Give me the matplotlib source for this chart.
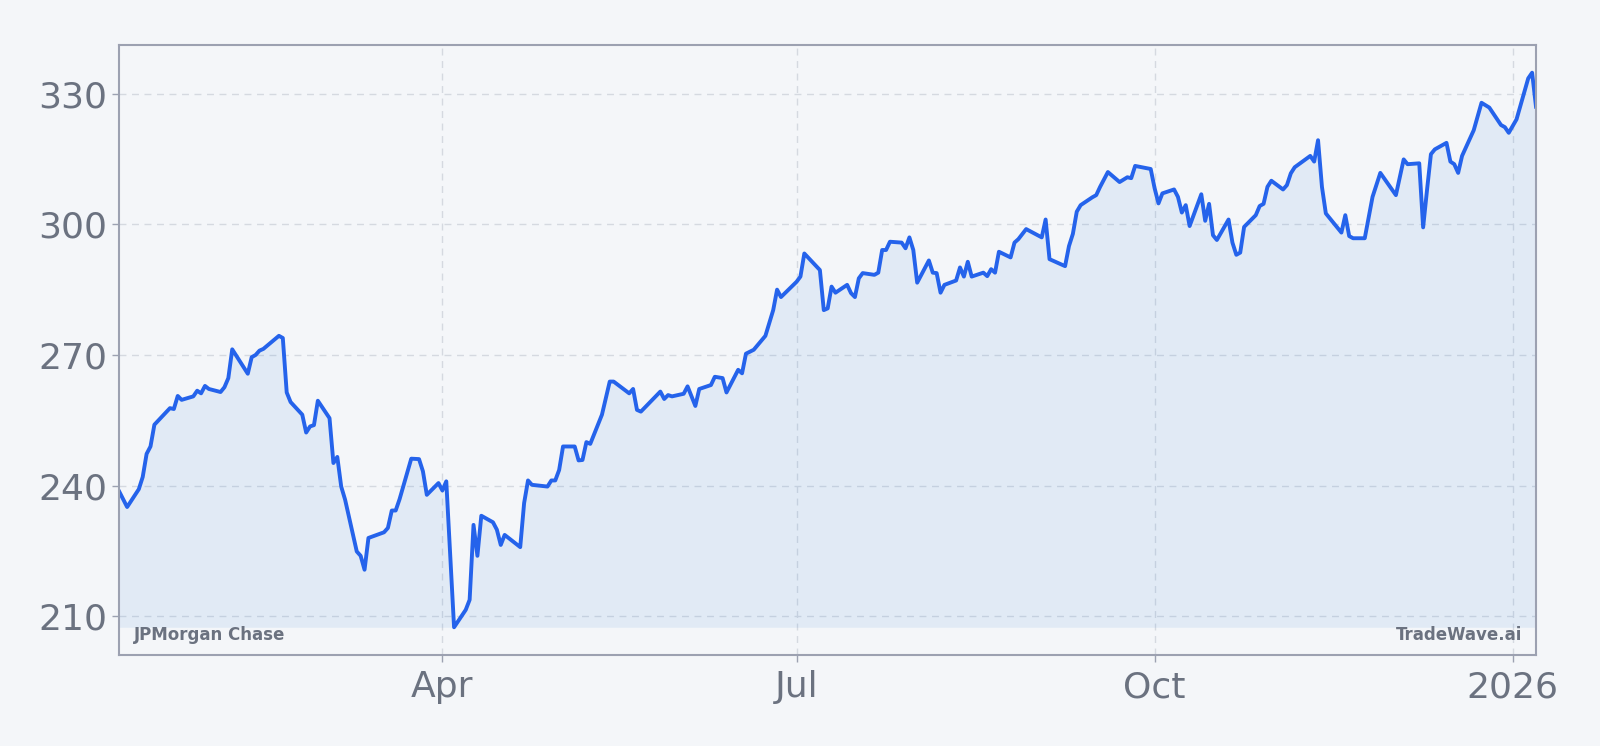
import numpy as np
import pandas as pd
import matplotlib
matplotlib.use('Agg')
import matplotlib.pyplot as plt

#----------------------- data -----------------------
company = 'JPMorgan Chase'
brand = 'TradeWave.ai'

dates = ['2025-01-08', '2025-01-10', '2025-01-13', '2025-01-14', '2025-01-15', '2025-01-16', '2025-01-17',
         '2025-01-21', '2025-01-22', '2025-01-23', '2025-01-24', '2025-01-27', '2025-01-28', '2025-01-29',
         '2025-01-30', '2025-01-31', '2025-02-03', '2025-02-04', '2025-02-05', '2025-02-06', '2025-02-10',
         '2025-02-11', '2025-02-12', '2025-02-13', '2025-02-14', '2025-02-18', '2025-02-19', '2025-02-20',
         '2025-02-21', '2025-02-24', '2025-02-25', '2025-02-26', '2025-02-27', '2025-02-28', '2025-03-03',
         '2025-03-04', '2025-03-05', '2025-03-06', '2025-03-07', '2025-03-10', '2025-03-11', '2025-03-12',
         '2025-03-13', '2025-03-17', '2025-03-18', '2025-03-19', '2025-03-20', '2025-03-21', '2025-03-24',
         '2025-03-26', '2025-03-27', '2025-03-28', '2025-03-31', '2025-04-01', '2025-04-02', '2025-04-04',
         '2025-04-07', '2025-04-08', '2025-04-09', '2025-04-10', '2025-04-11', '2025-04-14', '2025-04-15',
         '2025-04-16', '2025-04-17', '2025-04-21', '2025-04-22', '2025-04-23', '2025-04-24', '2025-04-28',
         '2025-04-29', '2025-04-30', '2025-05-01', '2025-05-02', '2025-05-05', '2025-05-06', '2025-05-07',
         '2025-05-08', '2025-05-09', '2025-05-12', '2025-05-14', '2025-05-15', '2025-05-19', '2025-05-20',
         '2025-05-21', '2025-05-22', '2025-05-27', '2025-05-28', '2025-05-29', '2025-05-30', '2025-06-02',
         '2025-06-03', '2025-06-05', '2025-06-06', '2025-06-09', '2025-06-10', '2025-06-12', '2025-06-13',
         '2025-06-16', '2025-06-17', '2025-06-18', '2025-06-20', '2025-06-23', '2025-06-25', '2025-06-26',
         '2025-06-27', '2025-06-30', '2025-07-01', '2025-07-02', '2025-07-03', '2025-07-07', '2025-07-08',
         '2025-07-09', '2025-07-10', '2025-07-11', '2025-07-14', '2025-07-15', '2025-07-16', '2025-07-17',
         '2025-07-18', '2025-07-21', '2025-07-22', '2025-07-23', '2025-07-24', '2025-07-25', '2025-07-28',
         '2025-07-29', '2025-07-30', '2025-07-31', '2025-08-01', '2025-08-04', '2025-08-05', '2025-08-06',
         '2025-08-07', '2025-08-08', '2025-08-11', '2025-08-12', '2025-08-13', '2025-08-14', '2025-08-15',
         '2025-08-18', '2025-08-19', '2025-08-20', '2025-08-21', '2025-08-22', '2025-08-25', '2025-08-26',
         '2025-08-27', '2025-08-29', '2025-09-02', '2025-09-03', '2025-09-04', '2025-09-08', '2025-09-09',
         '2025-09-10', '2025-09-11', '2025-09-12', '2025-09-15', '2025-09-16', '2025-09-17', '2025-09-19',
         '2025-09-22', '2025-09-24', '2025-09-25', '2025-09-26', '2025-09-30', '2025-10-01', '2025-10-02',
         '2025-10-03', '2025-10-06', '2025-10-07', '2025-10-08', '2025-10-09', '2025-10-10', '2025-10-13',
         '2025-10-14', '2025-10-15', '2025-10-16', '2025-10-17', '2025-10-20', '2025-10-21', '2025-10-22',
         '2025-10-23', '2025-10-24', '2025-10-27', '2025-10-28', '2025-10-29', '2025-10-30', '2025-10-31',
         '2025-11-03', '2025-11-04', '2025-11-05', '2025-11-06', '2025-11-10', '2025-11-11', '2025-11-12',
         '2025-11-13', '2025-11-14', '2025-11-18', '2025-11-19', '2025-11-20', '2025-11-21', '2025-11-24',
         '2025-11-26', '2025-11-28', '2025-12-02', '2025-12-04', '2025-12-05', '2025-12-08', '2025-12-09',
         '2025-12-10', '2025-12-11', '2025-12-12', '2025-12-15', '2025-12-16', '2025-12-17', '2025-12-18',
         '2025-12-19', '2025-12-22', '2025-12-24', '2025-12-26', '2025-12-29', '2025-12-30', '2025-12-31',
         '2026-01-02', '2026-01-05', '2026-01-06', '2026-01-07']

prices = [238.6, 235.1, 239.2, 242.0, 247.3, 249.0, 254.0,
          257.8, 257.6, 260.6, 259.7, 260.5, 261.8, 261.2,
          262.9, 262.2, 261.5, 262.6, 264.7, 271.3, 265.7,
          269.5, 270.0, 271.0, 271.4, 274.4, 273.9, 261.4,
          259.2, 256.3, 252.2, 253.6, 253.9, 259.5, 255.5,
          245.2, 246.6, 239.8, 236.8, 224.9, 223.9, 220.7,
          228.0, 229.3, 230.3, 234.3, 234.3, 236.9, 246.2,
          246.1, 243.3, 237.9, 240.6, 238.9, 241.0, 207.5,
          211.5, 213.8, 231.0, 223.9, 233.1, 231.6, 229.9,
          226.4, 228.7, 225.9, 236.0, 241.2, 240.2, 239.8,
          241.2, 241.2, 243.6, 249.0, 249.0, 245.8, 245.9,
          250.0, 249.6, 256.3, 263.9, 263.9, 261.2, 262.2,
          257.4, 257.0, 261.6, 259.9, 260.8, 260.5, 261.1,
          262.8, 258.3, 262.2, 263.1, 265.0, 264.7, 261.4,
          266.6, 265.8, 270.3, 271.2, 274.4, 280.3, 285.0,
          283.3, 285.9, 286.8, 288.0, 293.3, 289.5, 280.3,
          280.7, 285.7, 284.3, 286.1, 284.2, 283.3, 287.6,
          288.8, 288.4, 288.9, 294.1, 294.1, 296.0, 295.8,
          294.5, 297.0, 294.1, 286.6, 291.7, 288.9, 288.8,
          284.3, 286.1, 287.1, 290.1, 288.0, 291.4, 288.0,
          288.9, 288.1, 289.7, 288.9, 293.7, 292.4, 295.8,
          296.6, 298.9, 297.0, 301.1, 292.0, 290.4, 295.0,
          297.8, 302.9, 304.4, 306.2, 306.7, 308.6, 312.0,
          309.7, 310.8, 310.6, 313.4, 312.7, 308.3, 304.8,
          307.1, 308.0, 306.3, 302.7, 304.4, 299.6, 306.9,
          300.8, 304.7, 297.5, 296.4, 301.1, 295.8, 293.0,
          293.5, 299.4, 302.1, 304.2, 304.7, 308.6, 310.0,
          308.0, 309.0, 311.7, 313.1, 315.7, 314.4, 319.3,
          308.6, 302.5, 298.1, 302.1, 297.3, 296.8, 296.8,
          306.3, 311.8, 306.7, 314.9, 313.8, 314.0, 299.3,
          307.9, 316.1, 317.2, 318.7, 314.4, 313.8, 311.8,
          315.7, 321.6, 327.9, 326.8, 322.8, 322.3, 321.0,
          324.1, 333.5, 334.8, 327.0]

tick_dates = ['2025-04-01', '2025-07-01', '2025-10-01', '2026-01-01']
tick_labels = ['Apr', 'Jul', 'Oct', '2026']
y_ticks = [210, 240, 270, 300, 330]

#----------------------- plot -----------------------
bg = '#f4f6f9'
line_col = '#2563eb'
fill_col = '#4088db'
text_col = '#6b7280'
spine_col = '#9ca1b1'

x = pd.to_datetime(dates)
y = np.array(prices)

fig = plt.figure(figsize=(16, 7.46), dpi=100, facecolor=bg)
ax = fig.add_axes([0.0746, 0.122, 0.8854, 0.8177])
ax.set_facecolor(bg)

# translucent fill so the dashed grid still shows through it
ax.fill_between(x, y, y.min(), color=fill_col, alpha=0.1, linewidth=0)
ax.plot(x, y, color=line_col, linewidth=2.8, solid_joinstyle='round')

ax.set_xlim(x[0], x[-1])
ax.margins(y=0.05)
ax.set_xticks(pd.to_datetime(tick_dates))
ax.set_xticklabels(tick_labels)
ax.set_yticks(y_ticks)

ax.grid(True, linestyle=(0, (5, 4)), color='#d5d9e0', linewidth=1.0)
ax.set_axisbelow(True)
for s in ax.spines.values():
    s.set_color(spine_col)
    s.set_linewidth(1.5)
ax.tick_params(axis='both', colors=spine_col, labelcolor=text_col, labelsize=26, length=5, width=1)
ax.tick_params(axis='x', pad=6)

ax.text(0.01, 0.018, company, transform=ax.transAxes, fontsize=12, fontweight='bold',
        color=text_col, ha='left', va='bottom')
ax.text(0.99, 0.018, brand, transform=ax.transAxes, fontsize=12, fontweight='bold',
        color=text_col, ha='right', va='bottom')

fig.savefig('out.png', facecolor=bg)
